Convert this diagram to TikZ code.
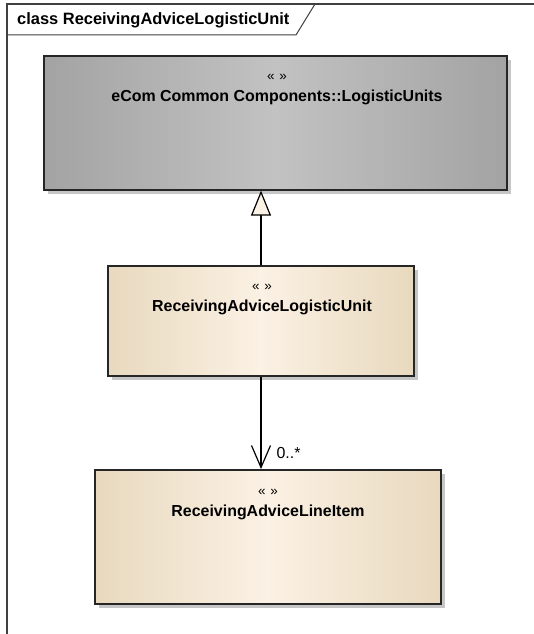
\documentclass[tikz,border=0pt]{standalone}
\usepackage{fontspec}
\setmainfont{Liberation Sans}
\usetikzlibrary{arrows.meta,shadows}
\definecolor{frameline}{HTML}{404040}
\definecolor{grayedge}{HTML}{A3A3A3}
\definecolor{graymid}{HTML}{C2C2C2}
\definecolor{beigeedge}{HTML}{E8D9BE}
\definecolor{beigemid}{HTML}{FBF1E4}
\definecolor{cream}{HTML}{FBF1E4}
\definecolor{shadowgray}{HTML}{C6C6C6}
\tikzset{
  clsbox/.style={draw=black!85, line width=1.6bp, rectangle, inner sep=0pt, anchor=north west,
    drop shadow={shadow xshift=4bp, shadow yshift=-4bp, fill=shadowgray, opacity=1}},
  graybox/.style={clsbox, left color=grayedge, right color=grayedge, middle color=graymid},
  beigebox/.style={clsbox, left color=beigeedge, right color=beigeedge, middle color=beigemid},
  stereo/.style={font=\fontsize{13.5}{15}\selectfont, inner sep=0pt},
  clsname/.style={font=\fontsize{16}{19}\selectfont\bfseries, inner sep=0pt},
  conn/.style={draw=black, line width=1.2bp},
  mult/.style={font=\fontsize{16}{18}\selectfont, inner sep=0pt}
}
\newcommand{\stq}{«\hspace{5bp}»}
\begin{document}
\begin{tikzpicture}[x=1bp,y=-1bp]
\useasboundingbox (0,0) rectangle (534,634);
\fill[white] (0,0) rectangle (534,634);
% frame
\draw[frameline, line width=1.5bp] (7,634) -- (7,4) -- (534,4);
\draw[frameline, line width=1bp] (7,35) -- (296,35) -- (315,4);
\node[font=\fontsize{16.5}{19}\selectfont\bfseries, anchor=west, inner sep=0pt] (title) at (17,20) {class ReceivingAdviceLogisticUnit};
% classes
\node[graybox, minimum width=463bp, minimum height=134bp] (lu) at (43,55) {};
\node[stereo] (lus) at (277,77) {\stq};
\node[clsname] (lun) at (277,97) {eCom Common Components::LogisticUnits};

\node[beigebox, minimum width=306bp, minimum height=110bp] (ra) at (107,265) {};
\node[stereo] (ras) at (262,287) {\stq};
\node[clsname] (ran) at (262,307) {ReceivingAdviceLogisticUnit};

\node[beigebox, minimum width=346bp, minimum height=134bp] (li) at (94,469) {};
\node[stereo] (lis) at (268,492) {\stq};
\node[clsname] (lin) at (268,512) {ReceivingAdviceLineItem};
% connectors
\coordinate (gtop) at (261,189);
\coordinate (gbot) at (261,265);
\draw[conn, -{Triangle[width=20bp,length=25bp,fill=cream,line width=1.2bp]}] (ra.north -| gbot) -- (lu.south -| gtop);
\coordinate (abot) at (261,375);
\draw[conn, -{Straight Barb[width=19bp,length=22bp,line width=1.2bp]}] (ra.south -| abot) -- (li.north -| abot)
  node[mult, at end, anchor=west, xshift=15bp, yshift=16bp] {0..*};
\end{tikzpicture}
\end{document}
